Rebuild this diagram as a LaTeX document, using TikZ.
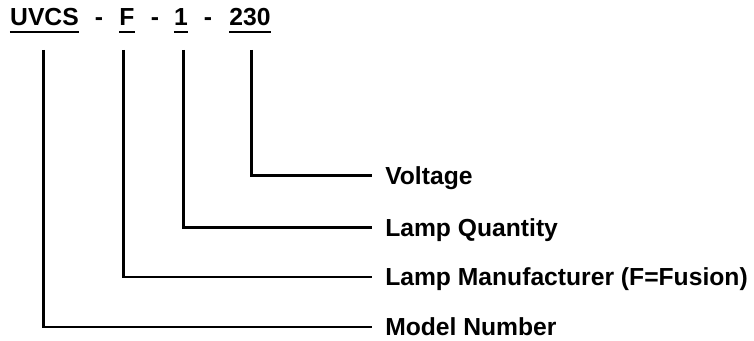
\documentclass[tikz,border=0pt]{standalone}
\usepackage{fontspec}
\setmainfont{Liberation Sans}
\begin{document}
\begin{tikzpicture}[x=0.75pt,y=-0.75pt,
  every node/.style={font=\fontsize{18.5}{22}\bfseries\selectfont},
  code/.style={inner sep=0pt,text height=13pt,text depth=0pt,anchor=south},
  label/.style={inner xsep=9.75pt,inner ysep=0pt,text height=13pt,text depth=0pt,anchor=west},
  conn/.style={line width=2.2pt,line cap=butt,line join=miter},
  uline/.style={line width=1.5pt}]
\useasboundingbox (0,0) rectangle (754,341);
% top code
\node[code] (uvcs) at (44.5,26) {UVCS};
\node[code] (d1) at (99,26) {-};
\node[code] (f) at (127,26) {F};
\node[code] (d2) at (155,26) {-};
\node[code] (one) at (181,26) {1};
\node[code] (d3) at (208,26) {-};
\node[code] (v230) at (250,26) {230};
% underlines
\draw[uline] ([yshift=-4.5pt]uvcs.south west) -- ([yshift=-4.5pt]uvcs.south east);
\draw[uline] ([yshift=-4.5pt]f.south west) -- ([yshift=-4.5pt]f.south east);
\draw[uline] ([yshift=-4.5pt]one.south west) -- ([yshift=-4.5pt]one.south east);
\draw[uline] ([yshift=-4.5pt]v230.south west) -- ([yshift=-4.5pt]v230.south east);
% labels
\node[label] (volt) at (372,175.5) {Voltage};
\node[label] (qty) at (372,227.5) {Lamp Quantity};
\node[label] (manu) at (372,277) {Lamp Manufacturer (F=Fusion)};
\node[label] (model) at (372,327) {Model Number};
% connector start points
\coordinate (s1) at (43.5,50);
\coordinate (s2) at (123.5,50);
\coordinate (s3) at (183.5,50);
\coordinate (s4) at (251.5,50);
\draw[conn] (s4) |- (volt.west);
\draw[conn] (s3) |- (qty.west);
\draw[conn] (s2) |- (manu.west);
\draw[conn] (s1) |- (model.west);
\end{tikzpicture}
\end{document}
